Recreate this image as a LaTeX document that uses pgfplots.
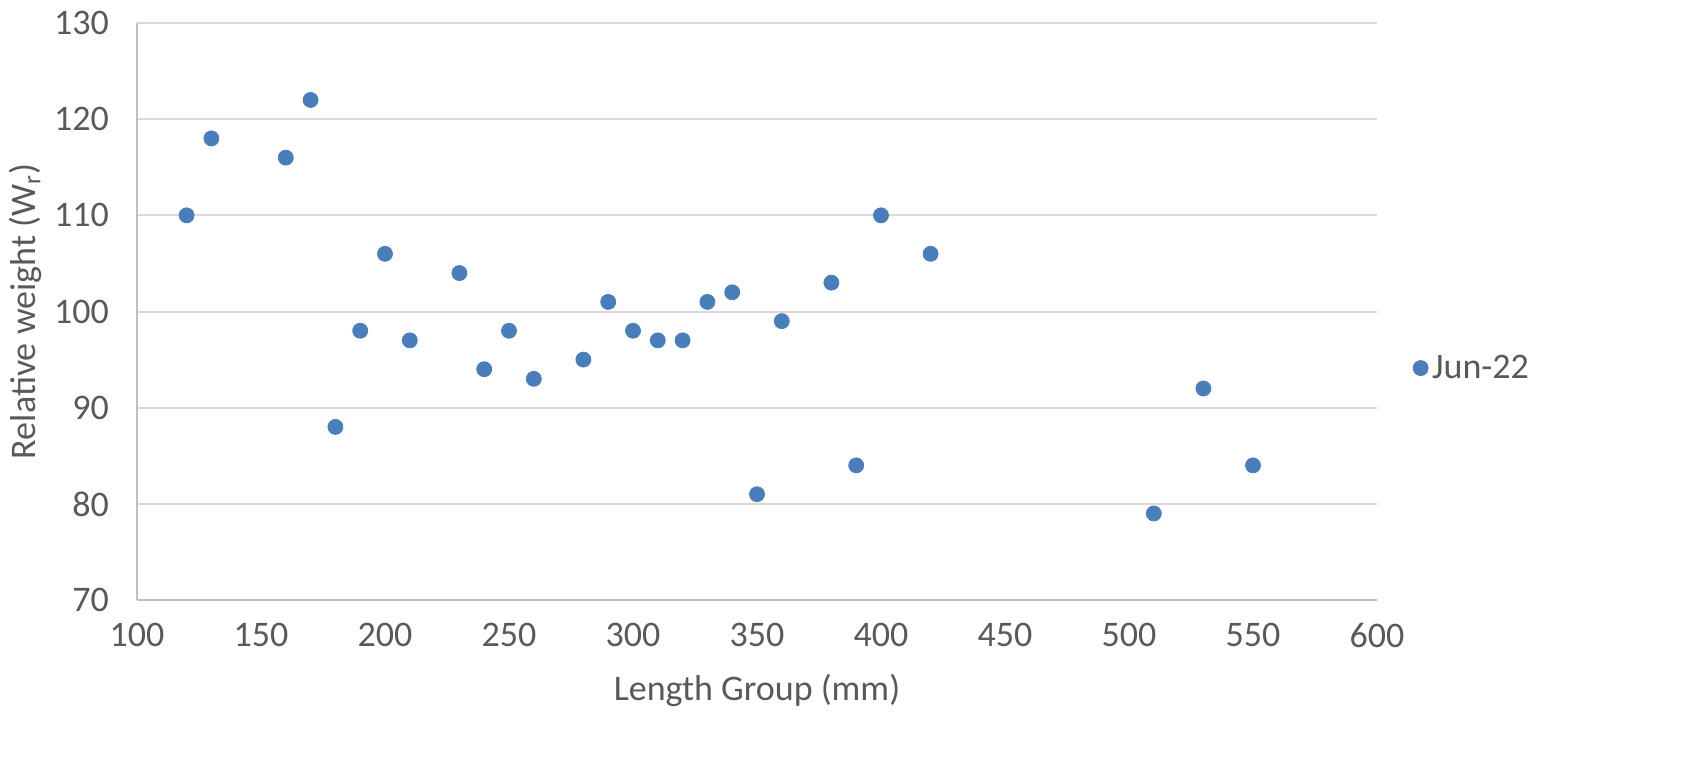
\documentclass[border=0pt]{standalone}
\usepackage{pgfplots}
\pgfplotsset{compat=1.18}
\usepackage{fontspec}
\setmainfont{Carlito}
\definecolor{dotblue}{HTML}{4A7EBB}
\definecolor{txtgray}{HTML}{595959}
\definecolor{axgray}{HTML}{BFBFBF}
\definecolor{gridgray}{HTML}{D9D9D9}
\begin{document}
\begin{tikzpicture}
\begin{axis}[
  scale only axis,
  width=620pt, height=288.5pt,
  xmin=100, xmax=600, ymin=70, ymax=130,
  xtick={100,150,...,600}, ytick={70,80,...,130},
  axis x line=bottom, axis y line=left,
  axis line style={axgray, line width=1pt, -},
  ymajorgrids, grid style={gridgray, line width=1pt},
  major tick length=0pt,
  /pgf/number format/assume math mode=true,
  font=\fontsize{18}{22}\selectfont,
  tick label style={text=txtgray},
  xticklabel style={yshift=-8pt},
  yticklabel style={xshift=-10.5pt},
  label style={text=txtgray},
  xlabel={Length Group (mm)},
  ylabel={Relative weight (W\textsubscript{r})},
  xlabel style={at={(axis description cs:0.5,-0.156)}, anchor=center},
  ylabel style={at={(axis description cs:-0.0903,0.5)}, anchor=center},
  legend style={at={(axis description cs:1.024,0.402)}, anchor=west, draw=none, fill=none, text=txtgray, font=\fontsize{18}{22}\selectfont},
  legend cell align=left,
]
\addplot[only marks, mark=*, mark size=3.75pt, draw=dotblue, fill=dotblue] coordinates {
(120,110) (130,118) (160,116) (170,122) (180,88) (190,98) (200,106) (210,97)
(230,104) (240,94) (250,98) (260,93) (280,95) (290,101) (300,98) (310,97)
(320,97) (330,101) (340,102) (350,81) (360,99) (380,103) (390,84) (400,110)
(420,106) (510,79) (530,92) (550,84)
};
\addlegendentry{Jun-22}
\end{axis}
\pgfresetboundingbox
\path (-68.5pt,-84pt) rectangle (776pt,300pt);
\end{tikzpicture}
\end{document}
